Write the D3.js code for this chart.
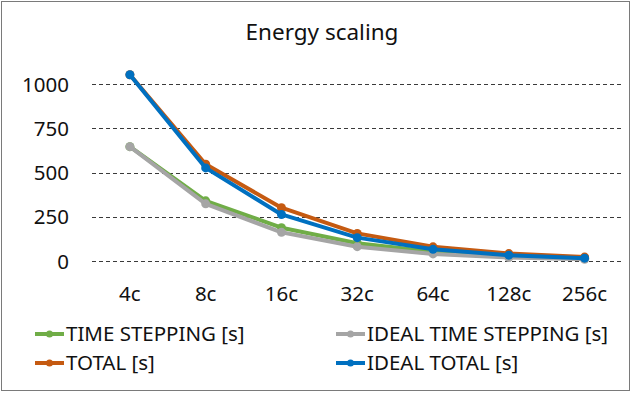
<!DOCTYPE html>
<html>
<head>
<meta charset="utf-8">
<script src="https://cdn.jsdelivr.net/npm/d3@7/dist/d3.min.js"></script>
<style>
html,body{margin:0;padding:0;background:#fff;}
svg{display:block;font-family:"Noto Sans",sans-serif;}
</style>
</head>
<body>
<script>
const categories = ["4c","8c","16c","32c","64c","128c","256c"];
const timeStepping = [646, 340, 188, 100, 52, 28, 17];
const idealTimeStepping = [646, 323, 162, 81, 40, 20, 10];
const total = [1052, 547, 301, 156, 80, 42, 22];
const idealTotal = [1052, 526, 263, 132, 66, 33, 16];
const yTicks = [0, 250, 500, 750, 1000];
const seriesNames = ["TIME STEPPING [s]","IDEAL TIME STEPPING [s]","TOTAL [s]","IDEAL TOTAL [s]"];
const seriesColors = ["#70AD47","#A5A5A5","#C55A11","#0070C0"];
const seriesValues = [timeStepping, idealTimeStepping, total, idealTotal];

const W = 631, H = 393;
const svg = d3.select("body").append("svg").attr("width", W).attr("height", H);

svg.append("rect").attr("x",1.5).attr("y",1.5).attr("width",W-3).attr("height",H-4)
  .attr("fill","#fff").attr("stroke","#7a7a7a").attr("stroke-width",1);

svg.append("text").attr("x",322).attr("y",40).attr("text-anchor","middle")
  .attr("font-size",22.5).attr("fill","#111").text("Energy scaling");

const x = d3.scaleBand().domain(categories).range([92, 622.5]);
const y = d3.scaleLinear().domain([0,1000]).range([261, 84]);

// gridlines
const grid = svg.append("g");
grid.selectAll("line").data(yTicks).join("line")
  .attr("x1",92).attr("x2",622.5)
  .attr("y1",d=>Math.round(y(d))+0.5).attr("y2",d=>Math.round(y(d))+0.5)
  .attr("stroke","#3a3a3a").attr("stroke-width",1).attr("stroke-dasharray","4,3");

// y axis labels
const yAxis = d3.axisLeft(y).tickValues(yTicks).tickFormat(d3.format("d")).tickSize(0).tickPadding(0);
const ya = svg.append("g").attr("transform","translate(69,0)").call(yAxis);
ya.select(".domain").remove();
ya.selectAll("text").attr("font-size",20.5).attr("fill","#111").attr("font-family","Noto Sans").attr("dy","0.35em");

// x axis labels
const xAxis = d3.axisBottom(x).tickSize(0).tickPadding(0);
const xa = svg.append("g").attr("transform","translate(0,286)").call(xAxis);
xa.select(".domain").remove();
xa.selectAll("text").attr("font-size",20.5).attr("fill","#111").attr("font-family","Noto Sans").attr("dy","0.72em");

const line = d3.line().x((d,i)=>x(categories[i]) + x.bandwidth()/2).y(d=>y(d));

seriesValues.forEach((vals, k) => {
  const g = svg.append("g");
  g.append("path").datum(vals).attr("d", line).attr("fill","none")
    .attr("stroke", seriesColors[k]).attr("stroke-width",4).attr("stroke-linejoin","round").attr("stroke-linecap","round");
  g.selectAll("circle").data(vals).join("circle")
    .attr("cx",(d,i)=>x(categories[i]) + x.bandwidth()/2).attr("cy",d=>y(d))
    .attr("r",4.5).attr("fill",seriesColors[k]);
});

// legend
const legendPos = [[35,334],[336,334],[35,363],[336,363]];
seriesNames.forEach((name,k)=>{
  const [lx,ly] = legendPos[k];
  const g = svg.append("g");
  g.append("line").attr("x1",lx).attr("x2",lx+29).attr("y1",ly).attr("y2",ly)
    .attr("stroke",seriesColors[k]).attr("stroke-width",4);
  g.append("circle").attr("cx",lx+14.5).attr("cy",ly).attr("r",3.5).attr("fill",seriesColors[k]);
  g.append("text").attr("x",lx+31).attr("y",ly).attr("dy","0.36em")
    .attr("font-size",20.5).attr("fill","#111").text(name);
});
</script>
</body>
</html>
